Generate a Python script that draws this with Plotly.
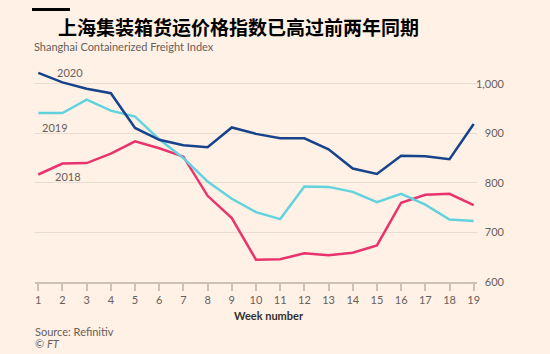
import plotly.graph_objects as go

weeks = list(range(1, 20))
y2020 = [1022, 1003, 990, 981, 911, 887, 876, 872, 912, 899, 890, 890, 868, 829, 818, 855, 854, 848, 919]
y2019 = [941, 941, 968, 946, 934, 888, 850, 803, 768, 741, 727, 793, 792, 782, 761, 778, 756, 726, 723]
y2018 = [817, 839, 840, 859, 884, 870, 853, 774, 729, 645, 646, 658, 654, 659, 674, 760, 776, 778, 755]
ytick_vals = [600, 700, 800, 900, 1000]
ytick_text = ["600", "700", "800", "900", "1,000"]
series_labels = ["2020", "2019", "2018"]

BG = "#FFF1E5"
GRID = "#e9ddd2"
AXIS = "#ccc1b7"
TXT = "#66605c"
FONT = "Lato, 'Noto Sans', sans-serif"

fig = go.Figure()
for name, ys, col in [("2018", y2018, "#e8336d"), ("2019", y2019, "#62d3de"), ("2020", y2020, "#17428c")]:
    fig.add_trace(go.Scatter(x=weeks, y=ys, mode="lines", name=name,
                             line=dict(color=col, width=2.5), showlegend=False, hoverinfo="skip"))

# series labels
fig.add_annotation(x=1.7, y=1022, text=series_labels[0], showarrow=False, xanchor="left", yanchor="middle",
                   font=dict(size=11, color=TXT, family=FONT))
fig.add_annotation(x=1.05, y=912, text=series_labels[1], showarrow=False, xanchor="left", yanchor="middle",
                   font=dict(size=11, color=TXT, family=FONT))
fig.add_annotation(x=1.6, y=812, text=series_labels[2], showarrow=False, xanchor="left", yanchor="middle",
                   font=dict(size=11, color=TXT, family=FONT))

fig.update_layout(
    width=550, height=354,
    paper_bgcolor=BG, plot_bgcolor=BG,
    margin=dict(l=35, r=43, t=68, b=72),
    xaxis=dict(domain=[0, 0.9364], range=[0.864, 19.136], tickmode="array", tickvals=weeks,
               showgrid=False, zeroline=False, showline=True, linecolor=AXIS, linewidth=1.5,
               ticks="outside", ticklen=7, tickcolor=AXIS, tickwidth=1.5,
               tickfont=dict(size=11, color=TXT, family=FONT), fixedrange=True),
    yaxis=dict(range=[600, 1032], tickmode="array", tickvals=ytick_vals, ticktext=ytick_text,
               side="right", anchor="free", position=1, ticklabelposition="inside",
               ticklabeloverflow="allow",
               showgrid=True, gridcolor=GRID, gridwidth=1.2, zeroline=False, showline=False,
               ticks="", tickfont=dict(size=11, color=TXT, family=FONT), fixedrange=True),
    showlegend=False,
)

# title elements
fig.add_shape(type="rect", xref="paper", yref="paper", x0=-3/472, x1=35/472,
              y0=1 + (68-11)/214, y1=1 + (68-8)/214, fillcolor="#000000", line=dict(width=0))
fig.add_annotation(xref="paper", yref="paper", x=21/472, y=1 + (68-26)/214, text="<b>上海集装箱货运价格指数已高过前两年同期</b>",
                   showarrow=False, xanchor="left", yanchor="middle",
                   font=dict(size=19, color="#000000", family="'Noto Sans CJK SC'"))
fig.add_annotation(xref="paper", yref="paper", x=-3/472, y=1 + (68-47)/214, text="Shanghai Containerized Freight Index",
                   showarrow=False, xanchor="left", yanchor="middle",
                   font=dict(size=11, color=TXT, family=FONT))
fig.add_annotation(xref="paper", yref="paper", x=(269-35)/472, y=-(315.5-282)/214, text="<b>Week number</b>",
                   showarrow=False, xanchor="center", yanchor="middle",
                   font=dict(size=11, color="#33302e", family=FONT))
fig.add_annotation(xref="paper", yref="paper", x=-2/472, y=-(331-282)/214, text="Source: Refinitiv",
                   showarrow=False, xanchor="left", yanchor="middle",
                   font=dict(size=11, color=TXT, family=FONT))
fig.add_annotation(xref="paper", yref="paper", x=-2/472, y=-(343-282)/214, text="© <i>FT</i>",
                   showarrow=False, xanchor="left", yanchor="middle",
                   font=dict(size=11, color=TXT, family=FONT))

fig.write_html("out.html")
